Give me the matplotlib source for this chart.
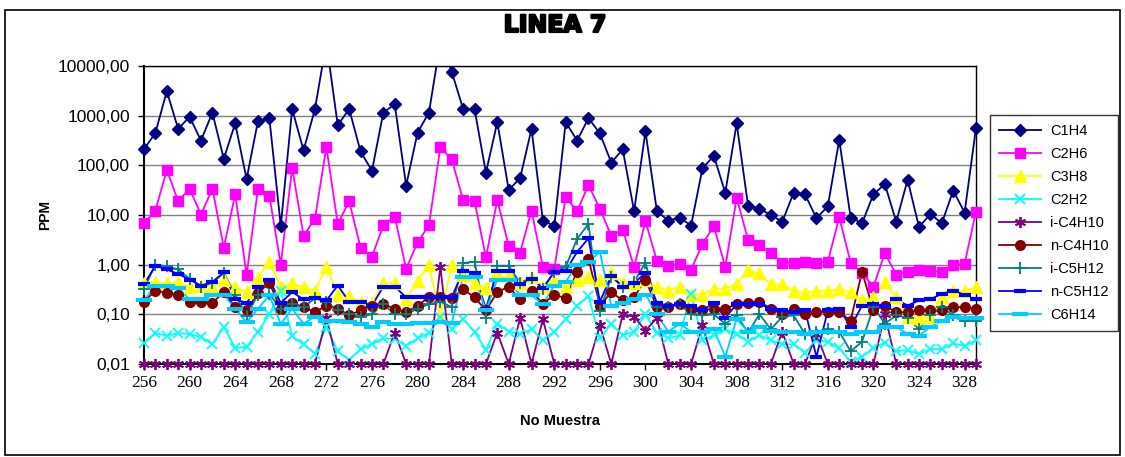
import matplotlib
matplotlib.use("Agg")
import numpy as np
import matplotlib.pyplot as plt
import matplotlib.patheffects as pe
from matplotlib.ticker import FixedLocator, FuncFormatter, NullLocator
from matplotlib.patches import Rectangle

samples = list(range(256, 330))

c1h4 = [210, 450, 3100, 540, 950, 315, 1150, 135, 700, 53,
        780, 890, 6.0, 1360, 200, 1360, 30000, 640, 1360, 190,
        78, 1150, 1700, 39, 455, 1150, 30000, 7700, 1360, 1360,
        71, 740, 32, 55, 540, 7.7, 6.0, 740, 315, 890,
        440, 113, 210, 12, 480, 12, 7.7, 8.9, 6.1, 87,
        155, 28, 700, 15.5, 13.4, 10, 7.3, 28, 26, 8.6,
        15, 325, 8.9, 6.8, 26, 42, 7.3, 51, 5.7, 10.5,
        6.8, 31, 11.2, 570]
c2h6 = [6.8, 12.3, 81, 19, 34, 10.2, 34, 2.2, 26, 0.62,
        34, 24.5, 1.0, 90, 3.8, 8.4, 235, 6.6, 19, 2.2,
        1.45, 6.2, 9.3, 0.83, 2.8, 6.2, 230, 132, 20, 19,
        1.4, 20, 2.35, 1.75, 12.3, 0.9, 0.83, 23, 12, 40,
        13.3, 3.8, 5.1, 0.9, 7.5, 1.2, 0.96, 1.03, 0.79, 2.6,
        6.0, 0.9, 22, 3.2, 2.5, 1.7, 1.1, 1.1, 1.15, 1.1,
        1.15, 9.0, 1.1, 0.68, 0.36, 1.7, 0.63, 0.72, 0.77, 0.74,
        0.72, 0.98, 1.05, 11.7]
c3h8 = [0.42, 0.45, 0.42, 0.45, 0.36, 0.38, 0.36, 0.5, 0.35, 0.28,
        0.55, 1.15, 0.35, 0.42, 0.35, 0.30, 0.9, 0.25, 0.23, 0.18,
        0.17, 0.43, 0.43, 0.2, 0.47, 0.98, 0.09, 0.98, 0.63, 0.43,
        0.34, 0.72, 0.66, 0.43, 0.57, 0.36, 0.5, 0.36, 0.5, 0.57,
        0.5, 0.68, 0.43, 0.43, 0.5, 0.36, 0.3, 0.36, 0.25, 0.25,
        0.33, 0.33, 0.4, 0.77, 0.67, 0.4, 0.4, 0.3, 0.27, 0.3,
        0.3, 0.32, 0.28, 0.19, 0.22, 0.45, 0.22, 0.09, 0.085, 0.09,
        0.22, 0.3, 0.3, 0.35]
c2h2 = [0.026, 0.042, 0.037, 0.042, 0.04, 0.035, 0.025, 0.056, 0.021, 0.022,
        0.045, 0.1, 0.3, 0.036, 0.025, 0.016, 0.056, 0.018, 0.012, 0.02,
        0.025, 0.033, 0.032, 0.023, 0.033, 0.042, 0.09, 0.05, 0.08, 0.045,
        0.019, 0.065, 0.045, 0.04, 0.05, 0.03, 0.045, 0.08, 0.15, 0.23,
        0.033, 0.065, 0.038, 0.045, 0.1, 0.043, 0.033, 0.038, 0.26, 0.03,
        0.038, 0.05, 0.04, 0.028, 0.038, 0.03, 0.025, 0.025, 0.017, 0.03,
        0.028, 0.021, 0.011, 0.014, 0.021, 0.027, 0.018, 0.019, 0.016, 0.02,
        0.02, 0.026, 0.023, 0.03]
ic4h10 = [0.01, 0.01, 0.01, 0.01, 0.01, 0.01, 0.01, 0.01, 0.01, 0.01,
          0.01, 0.01, 0.01, 0.01, 0.01, 0.01, 0.085, 0.01, 0.01, 0.01,
          0.01, 0.01, 0.043, 0.01, 0.01, 0.01, 0.9, 0.01, 0.01, 0.01,
          0.01, 0.043, 0.01, 0.085, 0.01, 0.08, 0.01, 0.01, 0.01, 0.01,
          0.06, 0.01, 0.1, 0.09, 0.047, 0.085, 0.01, 0.01, 0.01, 0.06,
          0.01, 0.01, 0.01, 0.01, 0.01, 0.01, 0.045, 0.01, 0.01, 0.04,
          0.01, 0.01, 0.01, 0.01, 0.01, 0.1, 0.01, 0.01, 0.01, 0.01,
          0.01, 0.01, 0.01, 0.01]
nc4h10 = [0.18, 0.30, 0.27, 0.25, 0.18, 0.18, 0.17, 0.28, 0.14, 0.12,
          0.27, 0.43, 0.13, 0.17, 0.14, 0.11, 0.15, 0.13, 0.096, 0.12,
          0.15, 0.16, 0.13, 0.11, 0.15, 0.22, 0.22, 0.21, 0.32, 0.22,
          0.12, 0.28, 0.36, 0.2, 0.3, 0.16, 0.25, 0.21, 0.72, 1.3,
          0.15, 0.28, 0.19, 0.22, 0.5, 0.14, 0.14, 0.16, 0.13, 0.12,
          0.13, 0.13, 0.16, 0.17, 0.18, 0.13, 0.1, 0.13, 0.1, 0.11,
          0.11, 0.11, 0.075, 0.72, 0.12, 0.15, 0.11, 0.11, 0.12, 0.12,
          0.12, 0.14, 0.14, 0.13]
ic5h12 = [0.33, 1.0, 0.93, 0.8, 0.52, 0.36, 0.43, 0.68, 0.25, 0.094,
          0.25, 0.26, 0.13, 0.16, 0.14, 0.21, 0.18, 0.12, 0.1, 0.09,
          0.1, 0.16, 0.1, 0.1, 0.13, 0.16, 0.18, 0.14, 1.08, 1.15,
          0.085, 0.95, 0.95, 0.43, 0.55, 0.33, 0.72, 0.9, 3.3, 6.6,
          0.115, 0.57, 0.36, 0.45, 1.1, 0.14, 0.14, 0.16, 0.1, 0.095,
          0.1, 0.064, 0.095, 0.043, 0.1, 0.05, 0.09, 0.095, 0.04, 0.045,
          0.05, 0.045, 0.018, 0.028, 0.14, 0.065, 0.095, 0.085, 0.05, 0.095,
          0.14, 0.095, 0.075, 0.075]
nc5h12 = [0.4, 0.95, 0.8, 0.65, 0.5, 0.38, 0.45, 0.7, 0.2, 0.17,
          0.36, 0.5, 0.17, 0.28, 0.2, 0.21, 0.19, 0.38, 0.18, 0.18,
          0.15, 0.36, 0.36, 0.22, 0.22, 0.22, 0.22, 0.22, 0.75, 0.68,
          0.13, 0.75, 0.75, 0.4, 0.52, 0.34, 0.7, 0.75, 1.8, 3.4,
          0.18, 0.6, 0.36, 0.43, 0.68, 0.17, 0.15, 0.16, 0.15, 0.12,
          0.17, 0.085, 0.16, 0.16, 0.16, 0.13, 0.12, 0.11, 0.12, 0.014,
          0.12, 0.13, 0.055, 0.15, 0.16, 0.15, 0.2, 0.15, 0.19, 0.2,
          0.26, 0.3, 0.25, 0.2]
c6h14 = [0.19, 0.38, 0.38, 0.34, 0.2, 0.2, 0.25, 0.25, 0.13, 0.07,
         0.13, 0.24, 0.064, 0.13, 0.065, 0.09, 0.072, 0.075, 0.07, 0.065,
         0.056, 0.07, 0.064, 0.064, 0.066, 0.066, 0.07, 0.066, 0.57, 0.57,
         0.12, 0.5, 0.48, 0.24, 0.24, 0.16, 0.38, 0.45, 1.0, 1.15,
         1.8, 0.15, 0.17, 0.2, 0.25, 0.1, 0.045, 0.064, 0.045, 0.045,
         0.05, 0.014, 0.08, 0.045, 0.055, 0.047, 0.045, 0.045, 0.04, 0.045,
         0.045, 0.045, 0.04, 0.045, 0.045, 0.056, 0.056, 0.04, 0.037, 0.056,
         0.075, 0.09, 0.085, 0.085]

series_names = ["C1H4", "C2H6", "C3H8", "C2H2", "i-C4H10", "n-C4H10",
                "i-C5H12", "n-C5H12", "C6H14"]
series_values = [c1h4, c2h6, c3h8, c2h2, ic4h10, nc4h10, ic5h12, nc5h12, c6h14]
y_ticks = [0.01, 0.1, 1, 10, 100, 1000, 10000]
x_ticks = list(range(256, 329, 4))

styles = [
    dict(color="#000080", marker="D", ms=6.5, mfc="#000080", mec="#000080"),
    dict(color="#FF00FF", marker="s", ms=7, mfc="#FF00FF", mec="#FF00FF"),
    dict(color="#FFFF00", marker="^", ms=8, mfc="#FFFF00", mec="#FFFF00"),
    dict(color="#00FFFF", marker="x", ms=7, mew=1.3),
    dict(color="#800080", marker=(6, 2, 0), ms=8, mew=1.3),
    dict(color="#800000", marker="o", ms=7, mfc="#800000", mec="#800000"),
    dict(color="#008080", marker="+", ms=9, mew=1.3),
    dict(color="#0000FF", marker="_", ms=8, mew=3),
    dict(color="#00CCFF", marker="_", ms=11, mew=3),
]

YMIN, YMAX = 0.01, 10000

fig = plt.figure(figsize=(11.25, 4.57), dpi=100)
fig.patch.set_facecolor("white")
ax = fig.add_axes([144 / 1125, 1 - 364 / 457, (976 - 144) / 1125, (364 - 66) / 457])

for name, vals, st in zip(series_names, series_values, styles):
    arr = np.array(vals, dtype=float)
    ax.plot(samples, arr, lw=1.3, color=st["color"], clip_on=True, zorder=2)
    marr = np.ma.masked_where((arr > YMAX) | (arr < YMIN), arr)
    mk = {k: v for k, v in st.items() if k != "color"}
    ax.plot(samples, marr, ls="none", color=st["color"], clip_on=False, zorder=3, **mk)
    ax.plot([], [], lw=1.3, label=name, **st)

ax.set_yscale("log")
ax.set_ylim(YMIN, YMAX)
ax.set_xlim(256, 329)
ax.yaxis.set_major_locator(FixedLocator(y_ticks))
ax.yaxis.set_minor_locator(NullLocator())
ax.yaxis.set_major_formatter(FuncFormatter(lambda v, p: f"{v:.2f}".replace(".", ",")))
ax.set_xticks(x_ticks)
ax.set_xticklabels([str(t) for t in x_ticks], fontfamily="Liberation Serif", fontsize=12.5)
for lab in ax.get_yticklabels():
    lab.set_fontfamily("Liberation Sans")
    lab.set_fontsize(12.5)
ax.tick_params(axis="both", direction="out", length=4, width=1, color="black")
ax.tick_params(axis="x", pad=4)
ax.tick_params(axis="y", pad=6)
ax.grid(True, axis="y", color="#808080", lw=1)
ax.set_axisbelow(True)
for s in ["left", "bottom", "top", "right"]:
    ax.spines[s].set_color("black")
ax.spines["left"].set_linewidth(1.5)
ax.spines["bottom"].set_linewidth(1.5)
ax.spines["top"].set_linewidth(1)
ax.spines["right"].set_linewidth(1)

fig.text(555 / 1125, 1 - 25 / 457, "LINEA 7", ha="center", va="center",
         fontsize=17, fontweight="bold", family="DejaVu Sans",
         path_effects=[pe.withStroke(linewidth=1.6, foreground="black")])
fig.text(45 / 1125, 1 - 215 / 457, "PPM", ha="center", va="center", rotation=90,
         fontsize=10, fontweight="bold", family="Liberation Sans")
fig.text(560 / 1125, 1 - 421 / 457, "No Muestra", ha="center", va="center",
         fontsize=10.5, fontweight="bold", family="Liberation Sans")

leg = fig.legend(loc="center", bbox_to_anchor=(1054 / 1125, 1 - 223 / 457),
                 frameon=True, fancybox=False, edgecolor="black", numpoints=1,
                 prop={"family": "Liberation Sans", "size": 10.5},
                 handlelength=2.9, labelspacing=0.62, borderpad=0.6, handletextpad=0.6)
leg.get_frame().set_linewidth(1)

fig.patches.append(Rectangle((5 / 1125, 2 / 457), 1115 / 1125, 445 / 457,
                             transform=fig.transFigure, fill=False,
                             edgecolor="black", lw=1.2))

fig.savefig("out.png", dpi=100)
